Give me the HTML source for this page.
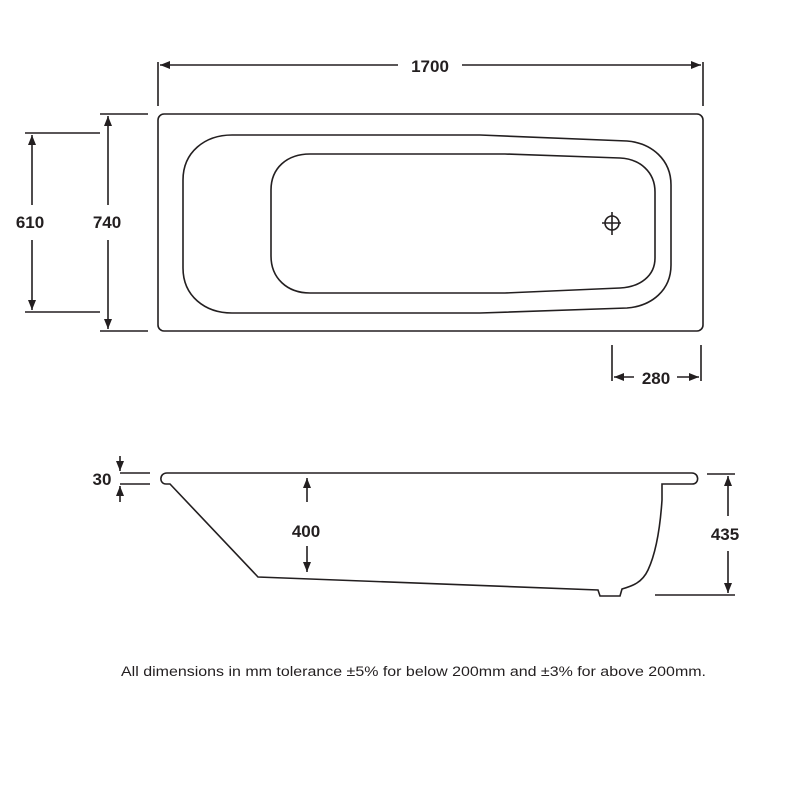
<!DOCTYPE html>
<html><head><meta charset="utf-8"><style>
html,body{margin:0;padding:0;background:#fff;}
svg{display:block;}
text{font-family:"Liberation Sans",sans-serif;font-weight:bold;fill:#231f20;}
</style></head><body>
<svg width="800" height="800" viewBox="0 0 800 800" xmlns="http://www.w3.org/2000/svg">
<defs>
<marker id="a" viewBox="0 0 10 10" refX="10" refY="5" markerWidth="10" markerHeight="10" markerUnits="userSpaceOnUse" orient="auto-start-reverse">
<path d="M0,1 L10,5 L0,9 Z" fill="#231f20"/></marker>
</defs>
<g stroke="#231f20" fill="none" stroke-width="1.6">
<rect x="158" y="114" width="545" height="217" rx="6"/>
<path d="M232,135 L480,135 L627,141 C652,143 671,160 671,185 L671,265 C671,290 652,306 627,308 L480,313 L232,313 C205,313 183,296 183,268 L183,180 C183,152 205,135 232,135 Z"/>
<path d="M310,154 L505,154 L620,158 C640,159 655,172 655,192 L655,258 C655,276 640,287 620,288 L505,293 L310,293 C287,293 271,278 271,256 L271,190 C271,168 287,154 310,154 Z"/>
<circle cx="612" cy="223" r="7"/>
<path d="M612,212 V235 M602,223 H621"/>
<path d="M158,62 V106 M703,62 V106"/>
<path d="M160,65 H398" marker-start="url(#a)"/>
<path d="M462,65 H701" marker-end="url(#a)"/>
<path d="M100,114 H148 M100,331 H148"/>
<path d="M108,116 V205" marker-start="url(#a)"/>
<path d="M108,240 V329" marker-end="url(#a)"/>
<path d="M25,133 H100 M25,312 H100"/>
<path d="M32,135 V205" marker-start="url(#a)"/>
<path d="M32,240 V310" marker-end="url(#a)"/>
<path d="M612,345 V381 M701,345 V381"/>
<path d="M614,377 H634" marker-start="url(#a)"/>
<path d="M677,377 H699" marker-end="url(#a)"/>
<path d="M167,473 L692,473 C699,473 700,484 692,484 L662,484 L662,500 C660,530 655,555 648,570 C642,583 632,586 622,589 L620,596 L600,596 L598,590 L258,577 L170,484 L166,484 C159,484 159,473 167,473 Z"/>
<path d="M120,473 H150 M120,484 H150"/>
<path d="M120,456 V471" marker-end="url(#a)"/>
<path d="M120,502 V486" marker-end="url(#a)"/>
<path d="M307,502 V478" marker-end="url(#a)"/>
<path d="M307,546 V572" marker-end="url(#a)"/>
<path d="M707,474 H735 M655,595 H735"/>
<path d="M728,476 V516" marker-start="url(#a)"/>
<path d="M728,551 V593" marker-end="url(#a)"/>
</g>
<text x="430" y="72" font-size="17" text-anchor="middle">1700</text>
<text x="107" y="228" font-size="17" text-anchor="middle">740</text>
<text x="30" y="228" font-size="17" text-anchor="middle">610</text>
<text x="656" y="384" font-size="17" text-anchor="middle">280</text>
<text x="102" y="485" font-size="17" text-anchor="middle">30</text>
<text x="306" y="537" font-size="17" text-anchor="middle">400</text>
<text x="725" y="540" font-size="17" text-anchor="middle">435</text>
<text x="121" y="676" font-size="13.5" textLength="585" lengthAdjust="spacingAndGlyphs" style="font-weight:normal">All dimensions in mm tolerance ±5% for below 200mm and ±3% for above 200mm.</text>
</svg>
</body></html>
